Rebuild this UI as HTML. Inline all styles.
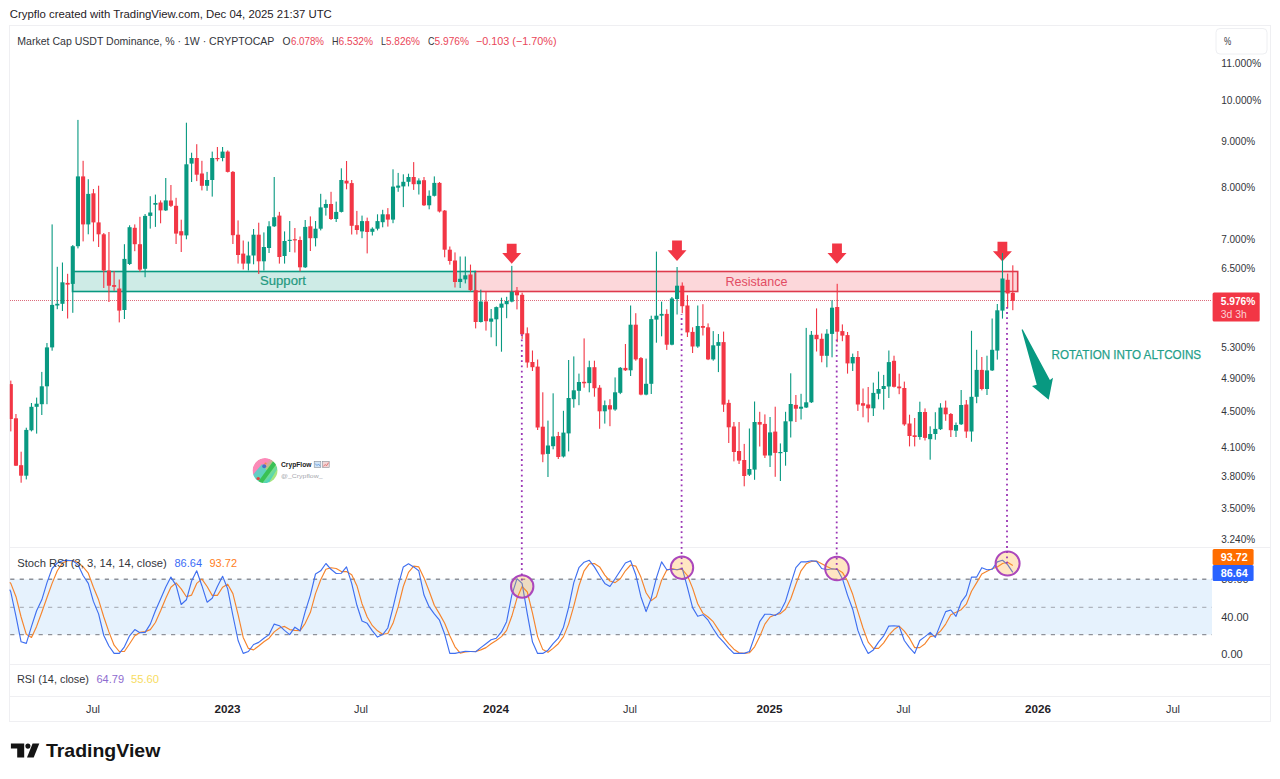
<!DOCTYPE html>
<html lang="en"><head><meta charset="utf-8"><title>Market Cap USDT Dominance</title>
<style>
html,body{margin:0;padding:0;background:#fff;}
body{width:1280px;height:779px;overflow:hidden;font-family:"Liberation Sans",sans-serif;}
svg{display:block;}
text{font-family:"Liberation Sans",sans-serif;}
</style></head><body>
<svg width="1280" height="779" viewBox="0 0 1280 779">
<rect width="1280" height="779" fill="#fff"/>

<g fill="none" stroke="#efeff2" stroke-width="1" shape-rendering="crispEdges">
<rect x="9.5" y="25.5" width="1261" height="696"/>
<line x1="9.5" y1="547.5" x2="1270.5" y2="547.5"/>
<line x1="9.5" y1="664.5" x2="1270.5" y2="664.5"/>
<line x1="9.5" y1="696.5" x2="1270.5" y2="696.5"/>
</g>
<rect x="10" y="579.3" width="1202" height="55.3" fill="#e6f2fd"/>
<g stroke="#8e9199" fill="none">
<line x1="10.2" y1="579.3" x2="1212" y2="579.3" stroke-width="1.4" stroke-dasharray="4.2 5.26"/>
<line x1="10.2" y1="607.3" x2="1212" y2="607.3" stroke-width="0.9" stroke-dasharray="4.2 5.26" stroke="#9a9da5"/>
<line x1="10.2" y1="634.6" x2="1212" y2="634.6" stroke-width="1.4" stroke-dasharray="4.2 5.26"/>
</g>
<rect x="475.3" y="271.5" width="542.4" height="20" fill="rgba(242,54,69,0.2)" stroke="#de3a4c" stroke-width="1.6"/>
<rect x="72.5" y="271.5" width="402.8" height="20" fill="rgba(8,153,129,0.2)" stroke="#089981" stroke-width="1.6"/>
<text x="283" y="285" font-size="13" fill="#23997f" stroke="#23997f" stroke-width="0.2" text-anchor="middle" textLength="46" lengthAdjust="spacingAndGlyphs">Support</text>
<text x="756.5" y="285.5" font-size="13" fill="#e24c63" text-anchor="middle" textLength="62" lengthAdjust="spacingAndGlyphs">Resistance</text>
<line x1="10" y1="300.5" x2="1212" y2="300.5" stroke="#dc6c7c" stroke-width="1" stroke-dasharray="1 1" shape-rendering="crispEdges"/>
<path d="M506.8 243.7 H516.6 V253 H521.2 L511.7 263.7 L502.2 253 H506.8 Z" fill="#f23645"/>
<path d="M672.1 240.6 H681.9 V250.2 H686.5 L677 260.9 L667.5 250.2 H672.1 Z" fill="#f23645"/>
<path d="M832.1 243.5 H841.9 V252.9 H846.5 L837 263.8 L827.5 252.9 H832.1 Z" fill="#f23645"/>
<path d="M997.5 241.8 H1007.3 V251.2 H1011.9 L1002.4 261.5 L992.9 251.2 H997.5 Z" fill="#f23645"/>
<defs><clipPath id="plot"><rect x="9.8" y="26" width="1202" height="522"/></clipPath></defs>
<g clip-path="url(#plot)">
<rect x="10.25" y="380.6" width="1.1" height="50.8" fill="#f23645"/>
<rect x="8.75" y="384.1" width="4.1" height="34.9" fill="#f23645"/>
<rect x="15.41" y="414.0" width="1.1" height="52.0" fill="#f23645"/>
<rect x="13.91" y="418.3" width="4.1" height="47.4" fill="#f23645"/>
<rect x="20.58" y="451.7" width="1.1" height="31.0" fill="#f23645"/>
<rect x="19.08" y="465.2" width="4.1" height="10.5" fill="#f23645"/>
<rect x="25.75" y="427.7" width="1.1" height="51.7" fill="#089981"/>
<rect x="24.25" y="429.9" width="4.1" height="45.8" fill="#089981"/>
<rect x="30.91" y="403.0" width="1.1" height="28.4" fill="#089981"/>
<rect x="29.41" y="406.8" width="4.1" height="23.5" fill="#089981"/>
<rect x="36.08" y="397.6" width="1.1" height="36.0" fill="#089981"/>
<rect x="34.58" y="403.7" width="4.1" height="3.1" fill="#089981"/>
<rect x="41.24" y="371.9" width="1.1" height="43.1" fill="#089981"/>
<rect x="39.74" y="386.3" width="4.1" height="17.9" fill="#089981"/>
<rect x="46.41" y="343.0" width="1.1" height="61.2" fill="#089981"/>
<rect x="44.91" y="347.4" width="4.1" height="38.9" fill="#089981"/>
<rect x="51.57" y="224.4" width="1.1" height="126.3" fill="#089981"/>
<rect x="50.07" y="304.9" width="4.1" height="42.5" fill="#089981"/>
<rect x="56.73" y="266.8" width="1.1" height="42.4" fill="#089981"/>
<rect x="55.23" y="303.8" width="4.1" height="1.7" fill="#089981"/>
<rect x="61.90" y="262.5" width="1.1" height="48.5" fill="#089981"/>
<rect x="60.40" y="282.3" width="4.1" height="21.5" fill="#089981"/>
<rect x="67.06" y="273.8" width="1.1" height="44.7" fill="#f23645"/>
<rect x="65.56" y="282.9" width="4.1" height="1.7" fill="#f23645"/>
<rect x="72.23" y="245.0" width="1.1" height="67.8" fill="#089981"/>
<rect x="70.73" y="246.2" width="4.1" height="37.7" fill="#089981"/>
<rect x="77.39" y="119.9" width="1.1" height="128.5" fill="#089981"/>
<rect x="75.89" y="176.4" width="4.1" height="69.8" fill="#089981"/>
<rect x="82.56" y="160.8" width="1.1" height="80.6" fill="#f23645"/>
<rect x="81.06" y="176.4" width="4.1" height="48.0" fill="#f23645"/>
<rect x="87.72" y="179.2" width="1.1" height="55.1" fill="#089981"/>
<rect x="86.22" y="193.9" width="4.1" height="30.5" fill="#089981"/>
<rect x="92.89" y="189.0" width="1.1" height="52.4" fill="#f23645"/>
<rect x="91.39" y="193.3" width="4.1" height="29.1" fill="#f23645"/>
<rect x="98.06" y="185.7" width="1.1" height="61.3" fill="#f23645"/>
<rect x="96.56" y="222.4" width="4.1" height="11.9" fill="#f23645"/>
<rect x="103.22" y="233.0" width="1.1" height="55.0" fill="#f23645"/>
<rect x="101.72" y="234.3" width="4.1" height="36.2" fill="#f23645"/>
<rect x="108.39" y="232.0" width="1.1" height="70.0" fill="#f23645"/>
<rect x="106.89" y="270.5" width="4.1" height="15.2" fill="#f23645"/>
<rect x="113.55" y="271.0" width="1.1" height="19.8" fill="#f23645"/>
<rect x="112.05" y="285.1" width="4.1" height="1.7" fill="#f23645"/>
<rect x="118.72" y="279.5" width="1.1" height="42.9" fill="#f23645"/>
<rect x="117.22" y="288.5" width="4.1" height="22.1" fill="#f23645"/>
<rect x="123.88" y="244.2" width="1.1" height="74.8" fill="#089981"/>
<rect x="122.38" y="258.9" width="4.1" height="51.1" fill="#089981"/>
<rect x="129.04" y="225.3" width="1.1" height="39.7" fill="#089981"/>
<rect x="127.55" y="227.2" width="4.1" height="36.8" fill="#089981"/>
<rect x="134.21" y="224.4" width="1.1" height="26.8" fill="#f23645"/>
<rect x="132.71" y="227.8" width="4.1" height="16.4" fill="#f23645"/>
<rect x="139.38" y="216.8" width="1.1" height="54.8" fill="#f23645"/>
<rect x="137.88" y="244.2" width="4.1" height="25.4" fill="#f23645"/>
<rect x="144.54" y="214.0" width="1.1" height="63.2" fill="#089981"/>
<rect x="143.04" y="215.9" width="4.1" height="52.9" fill="#089981"/>
<rect x="149.71" y="196.2" width="1.1" height="32.4" fill="#089981"/>
<rect x="148.21" y="212.5" width="4.1" height="3.4" fill="#089981"/>
<rect x="154.87" y="194.6" width="1.1" height="32.3" fill="#089981"/>
<rect x="153.37" y="203.0" width="4.1" height="1.7" fill="#089981"/>
<rect x="160.03" y="200.4" width="1.1" height="22.9" fill="#f23645"/>
<rect x="158.53" y="202.5" width="4.1" height="7.9" fill="#f23645"/>
<rect x="165.20" y="178.0" width="1.1" height="33.0" fill="#089981"/>
<rect x="163.70" y="200.4" width="4.1" height="10.0" fill="#089981"/>
<rect x="170.37" y="185.0" width="1.1" height="22.0" fill="#f23645"/>
<rect x="168.87" y="200.5" width="4.1" height="5.3" fill="#f23645"/>
<rect x="175.53" y="197.8" width="1.1" height="46.2" fill="#f23645"/>
<rect x="174.03" y="205.8" width="4.1" height="27.8" fill="#f23645"/>
<rect x="180.69" y="219.7" width="1.1" height="32.3" fill="#f23645"/>
<rect x="179.19" y="231.2" width="4.1" height="4.2" fill="#f23645"/>
<rect x="185.86" y="122.7" width="1.1" height="116.6" fill="#089981"/>
<rect x="184.36" y="164.3" width="4.1" height="71.1" fill="#089981"/>
<rect x="191.03" y="152.7" width="1.1" height="29.3" fill="#089981"/>
<rect x="189.53" y="158.0" width="4.1" height="5.6" fill="#089981"/>
<rect x="196.19" y="144.2" width="1.1" height="36.9" fill="#f23645"/>
<rect x="194.69" y="158.0" width="4.1" height="16.7" fill="#f23645"/>
<rect x="201.35" y="160.8" width="1.1" height="29.6" fill="#f23645"/>
<rect x="199.85" y="173.5" width="4.1" height="12.3" fill="#f23645"/>
<rect x="206.52" y="171.9" width="1.1" height="18.9" fill="#089981"/>
<rect x="205.02" y="180.0" width="4.1" height="5.8" fill="#089981"/>
<rect x="211.69" y="151.6" width="1.1" height="45.0" fill="#089981"/>
<rect x="210.19" y="158.0" width="4.1" height="22.0" fill="#089981"/>
<rect x="216.85" y="147.0" width="1.1" height="14.3" fill="#f23645"/>
<rect x="215.35" y="158.0" width="4.1" height="1.2" fill="#f23645"/>
<rect x="222.02" y="147.0" width="1.1" height="14.3" fill="#089981"/>
<rect x="220.52" y="151.6" width="4.1" height="6.4" fill="#089981"/>
<rect x="227.18" y="150.4" width="1.1" height="22.1" fill="#f23645"/>
<rect x="225.68" y="151.6" width="4.1" height="20.3" fill="#f23645"/>
<rect x="232.34" y="171.0" width="1.1" height="73.0" fill="#f23645"/>
<rect x="230.84" y="171.9" width="4.1" height="63.3" fill="#f23645"/>
<rect x="237.51" y="220.4" width="1.1" height="43.2" fill="#f23645"/>
<rect x="236.01" y="234.7" width="4.1" height="20.3" fill="#f23645"/>
<rect x="242.68" y="240.5" width="1.1" height="28.9" fill="#f23645"/>
<rect x="241.18" y="253.6" width="4.1" height="10.0" fill="#f23645"/>
<rect x="247.84" y="241.6" width="1.1" height="28.9" fill="#089981"/>
<rect x="246.34" y="255.5" width="4.1" height="8.1" fill="#089981"/>
<rect x="253.00" y="229.0" width="1.1" height="35.3" fill="#089981"/>
<rect x="251.50" y="234.7" width="4.1" height="20.8" fill="#089981"/>
<rect x="258.17" y="222.7" width="1.1" height="51.3" fill="#f23645"/>
<rect x="256.67" y="234.7" width="4.1" height="26.6" fill="#f23645"/>
<rect x="263.33" y="232.4" width="1.1" height="38.1" fill="#089981"/>
<rect x="261.83" y="247.0" width="4.1" height="14.3" fill="#089981"/>
<rect x="268.50" y="221.2" width="1.1" height="31.8" fill="#089981"/>
<rect x="267.00" y="226.3" width="4.1" height="21.7" fill="#089981"/>
<rect x="273.67" y="177.0" width="1.1" height="50.0" fill="#089981"/>
<rect x="272.17" y="217.2" width="4.1" height="9.1" fill="#089981"/>
<rect x="278.83" y="211.9" width="1.1" height="51.7" fill="#f23645"/>
<rect x="277.33" y="215.6" width="4.1" height="41.4" fill="#f23645"/>
<rect x="284.00" y="231.4" width="1.1" height="32.2" fill="#089981"/>
<rect x="282.50" y="241.0" width="4.1" height="15.0" fill="#089981"/>
<rect x="289.16" y="221.0" width="1.1" height="31.0" fill="#089981"/>
<rect x="287.66" y="239.8" width="4.1" height="1.2" fill="#089981"/>
<rect x="294.32" y="228.0" width="1.1" height="24.5" fill="#f23645"/>
<rect x="292.82" y="239.2" width="4.1" height="1.2" fill="#f23645"/>
<rect x="299.49" y="236.5" width="1.1" height="34.9" fill="#f23645"/>
<rect x="297.99" y="240.0" width="4.1" height="27.3" fill="#f23645"/>
<rect x="304.66" y="220.0" width="1.1" height="48.0" fill="#089981"/>
<rect x="303.16" y="226.9" width="4.1" height="40.4" fill="#089981"/>
<rect x="309.82" y="216.4" width="1.1" height="34.6" fill="#f23645"/>
<rect x="308.32" y="226.3" width="4.1" height="11.9" fill="#f23645"/>
<rect x="314.99" y="221.0" width="1.1" height="25.4" fill="#089981"/>
<rect x="313.49" y="228.7" width="4.1" height="9.5" fill="#089981"/>
<rect x="320.15" y="193.8" width="1.1" height="36.6" fill="#089981"/>
<rect x="318.65" y="207.4" width="4.1" height="21.3" fill="#089981"/>
<rect x="325.31" y="199.6" width="1.1" height="16.0" fill="#089981"/>
<rect x="323.81" y="204.0" width="4.1" height="3.8" fill="#089981"/>
<rect x="330.48" y="191.8" width="1.1" height="28.2" fill="#f23645"/>
<rect x="328.98" y="204.0" width="4.1" height="15.0" fill="#f23645"/>
<rect x="335.64" y="201.6" width="1.1" height="20.4" fill="#089981"/>
<rect x="334.14" y="211.9" width="4.1" height="7.1" fill="#089981"/>
<rect x="340.81" y="168.3" width="1.1" height="44.2" fill="#089981"/>
<rect x="339.31" y="180.0" width="4.1" height="31.9" fill="#089981"/>
<rect x="345.98" y="161.0" width="1.1" height="28.3" fill="#f23645"/>
<rect x="344.48" y="180.7" width="4.1" height="2.8" fill="#f23645"/>
<rect x="351.14" y="180.0" width="1.1" height="54.5" fill="#f23645"/>
<rect x="349.64" y="183.1" width="4.1" height="42.7" fill="#f23645"/>
<rect x="356.31" y="210.9" width="1.1" height="23.6" fill="#f23645"/>
<rect x="354.81" y="225.2" width="4.1" height="4.8" fill="#f23645"/>
<rect x="361.47" y="215.6" width="1.1" height="22.6" fill="#089981"/>
<rect x="359.97" y="221.1" width="4.1" height="10.3" fill="#089981"/>
<rect x="366.63" y="217.6" width="1.1" height="35.8" fill="#f23645"/>
<rect x="365.13" y="221.1" width="4.1" height="10.9" fill="#f23645"/>
<rect x="371.80" y="227.3" width="1.1" height="8.2" fill="#089981"/>
<rect x="370.30" y="228.7" width="4.1" height="3.1" fill="#089981"/>
<rect x="376.96" y="214.3" width="1.1" height="16.1" fill="#089981"/>
<rect x="375.46" y="221.1" width="4.1" height="7.6" fill="#089981"/>
<rect x="382.13" y="209.8" width="1.1" height="17.5" fill="#089981"/>
<rect x="380.63" y="214.3" width="4.1" height="7.9" fill="#089981"/>
<rect x="387.30" y="208.1" width="1.1" height="18.5" fill="#f23645"/>
<rect x="385.80" y="214.3" width="4.1" height="5.3" fill="#f23645"/>
<rect x="392.46" y="169.3" width="1.1" height="53.9" fill="#089981"/>
<rect x="390.96" y="186.6" width="4.1" height="33.0" fill="#089981"/>
<rect x="397.62" y="172.9" width="1.1" height="18.9" fill="#089981"/>
<rect x="396.12" y="185.6" width="4.1" height="2.1" fill="#089981"/>
<rect x="402.79" y="174.3" width="1.1" height="32.8" fill="#089981"/>
<rect x="401.29" y="181.8" width="4.1" height="4.6" fill="#089981"/>
<rect x="407.95" y="173.7" width="1.1" height="12.7" fill="#089981"/>
<rect x="406.45" y="177.0" width="4.1" height="4.8" fill="#089981"/>
<rect x="413.12" y="162.1" width="1.1" height="27.8" fill="#f23645"/>
<rect x="411.62" y="177.0" width="4.1" height="7.2" fill="#f23645"/>
<rect x="418.29" y="178.3" width="1.1" height="16.2" fill="#089981"/>
<rect x="416.79" y="180.5" width="4.1" height="3.7" fill="#089981"/>
<rect x="423.45" y="177.0" width="1.1" height="29.0" fill="#f23645"/>
<rect x="421.95" y="180.2" width="4.1" height="25.1" fill="#f23645"/>
<rect x="428.62" y="190.4" width="1.1" height="18.9" fill="#089981"/>
<rect x="427.12" y="195.8" width="4.1" height="9.5" fill="#089981"/>
<rect x="433.78" y="176.4" width="1.1" height="20.1" fill="#089981"/>
<rect x="432.28" y="182.9" width="4.1" height="12.9" fill="#089981"/>
<rect x="438.94" y="182.0" width="1.1" height="30.5" fill="#f23645"/>
<rect x="437.44" y="182.9" width="4.1" height="28.6" fill="#f23645"/>
<rect x="444.11" y="210.0" width="1.1" height="47.3" fill="#f23645"/>
<rect x="442.61" y="210.6" width="4.1" height="39.1" fill="#f23645"/>
<rect x="449.27" y="246.5" width="1.1" height="18.1" fill="#f23645"/>
<rect x="447.77" y="249.7" width="4.1" height="11.3" fill="#f23645"/>
<rect x="454.44" y="252.4" width="1.1" height="35.1" fill="#f23645"/>
<rect x="452.94" y="260.5" width="4.1" height="21.5" fill="#f23645"/>
<rect x="459.61" y="256.5" width="1.1" height="31.5" fill="#089981"/>
<rect x="458.11" y="278.8" width="4.1" height="3.2" fill="#089981"/>
<rect x="464.77" y="256.5" width="1.1" height="26.9" fill="#089981"/>
<rect x="463.27" y="275.3" width="4.1" height="4.1" fill="#089981"/>
<rect x="469.94" y="264.6" width="1.1" height="26.9" fill="#f23645"/>
<rect x="468.44" y="274.5" width="4.1" height="15.7" fill="#f23645"/>
<rect x="475.10" y="272.6" width="1.1" height="55.8" fill="#f23645"/>
<rect x="473.60" y="290.2" width="4.1" height="31.8" fill="#f23645"/>
<rect x="480.26" y="289.6" width="1.1" height="32.9" fill="#089981"/>
<rect x="478.76" y="301.5" width="4.1" height="20.5" fill="#089981"/>
<rect x="485.43" y="291.5" width="1.1" height="39.1" fill="#f23645"/>
<rect x="483.93" y="301.5" width="4.1" height="19.7" fill="#f23645"/>
<rect x="490.60" y="309.0" width="1.1" height="28.3" fill="#089981"/>
<rect x="489.10" y="318.5" width="4.1" height="3.2" fill="#089981"/>
<rect x="495.76" y="306.5" width="1.1" height="39.7" fill="#089981"/>
<rect x="494.26" y="307.1" width="4.1" height="12.2" fill="#089981"/>
<rect x="500.93" y="297.7" width="1.1" height="54.0" fill="#089981"/>
<rect x="499.43" y="303.6" width="4.1" height="4.1" fill="#089981"/>
<rect x="506.09" y="296.8" width="1.1" height="21.4" fill="#089981"/>
<rect x="504.59" y="301.0" width="4.1" height="3.2" fill="#089981"/>
<rect x="511.25" y="265.9" width="1.1" height="36.4" fill="#089981"/>
<rect x="509.75" y="291.8" width="4.1" height="9.8" fill="#089981"/>
<rect x="516.42" y="287.0" width="1.1" height="22.4" fill="#f23645"/>
<rect x="514.92" y="290.6" width="4.1" height="4.7" fill="#f23645"/>
<rect x="521.59" y="292.7" width="1.1" height="46.2" fill="#f23645"/>
<rect x="520.09" y="294.8" width="4.1" height="39.5" fill="#f23645"/>
<rect x="526.75" y="327.4" width="1.1" height="40.3" fill="#f23645"/>
<rect x="525.25" y="333.3" width="4.1" height="29.2" fill="#f23645"/>
<rect x="531.91" y="350.5" width="1.1" height="20.5" fill="#f23645"/>
<rect x="530.41" y="362.0" width="4.1" height="5.2" fill="#f23645"/>
<rect x="537.08" y="359.5" width="1.1" height="70.5" fill="#f23645"/>
<rect x="535.58" y="366.6" width="4.1" height="60.9" fill="#f23645"/>
<rect x="542.25" y="392.3" width="1.1" height="69.9" fill="#f23645"/>
<rect x="540.75" y="426.7" width="4.1" height="27.7" fill="#f23645"/>
<rect x="547.41" y="420.6" width="1.1" height="56.4" fill="#089981"/>
<rect x="545.91" y="445.5" width="4.1" height="8.4" fill="#089981"/>
<rect x="552.58" y="393.3" width="1.1" height="56.0" fill="#089981"/>
<rect x="551.08" y="436.5" width="4.1" height="9.7" fill="#089981"/>
<rect x="557.74" y="431.9" width="1.1" height="27.1" fill="#f23645"/>
<rect x="556.24" y="436.0" width="4.1" height="21.0" fill="#f23645"/>
<rect x="562.90" y="410.8" width="1.1" height="46.7" fill="#089981"/>
<rect x="561.40" y="432.6" width="4.1" height="23.9" fill="#089981"/>
<rect x="568.07" y="360.0" width="1.1" height="91.4" fill="#089981"/>
<rect x="566.57" y="398.0" width="4.1" height="35.4" fill="#089981"/>
<rect x="573.24" y="356.4" width="1.1" height="51.3" fill="#089981"/>
<rect x="571.74" y="390.3" width="4.1" height="8.9" fill="#089981"/>
<rect x="578.40" y="373.6" width="1.1" height="31.6" fill="#089981"/>
<rect x="576.90" y="382.0" width="4.1" height="8.8" fill="#089981"/>
<rect x="583.57" y="338.4" width="1.1" height="49.3" fill="#f23645"/>
<rect x="582.07" y="381.8" width="4.1" height="1.5" fill="#f23645"/>
<rect x="588.73" y="360.7" width="1.1" height="31.6" fill="#089981"/>
<rect x="587.23" y="367.2" width="4.1" height="15.9" fill="#089981"/>
<rect x="593.89" y="360.7" width="1.1" height="36.0" fill="#f23645"/>
<rect x="592.39" y="367.2" width="4.1" height="21.0" fill="#f23645"/>
<rect x="599.06" y="385.1" width="1.1" height="43.7" fill="#f23645"/>
<rect x="597.56" y="387.7" width="4.1" height="23.6" fill="#f23645"/>
<rect x="604.23" y="400.5" width="1.1" height="23.1" fill="#089981"/>
<rect x="602.73" y="405.2" width="4.1" height="6.1" fill="#089981"/>
<rect x="609.39" y="399.2" width="1.1" height="27.0" fill="#f23645"/>
<rect x="607.89" y="405.2" width="4.1" height="4.3" fill="#f23645"/>
<rect x="614.55" y="377.4" width="1.1" height="33.4" fill="#089981"/>
<rect x="613.05" y="392.3" width="4.1" height="17.2" fill="#089981"/>
<rect x="619.72" y="367.0" width="1.1" height="27.1" fill="#089981"/>
<rect x="618.22" y="367.8" width="4.1" height="25.0" fill="#089981"/>
<rect x="624.88" y="344.0" width="1.1" height="27.0" fill="#f23645"/>
<rect x="623.38" y="367.9" width="4.1" height="2.4" fill="#f23645"/>
<rect x="630.05" y="305.5" width="1.1" height="70.5" fill="#089981"/>
<rect x="628.55" y="324.7" width="4.1" height="45.6" fill="#089981"/>
<rect x="635.22" y="313.2" width="1.1" height="47.5" fill="#f23645"/>
<rect x="633.72" y="324.7" width="4.1" height="34.7" fill="#f23645"/>
<rect x="640.38" y="357.0" width="1.1" height="38.3" fill="#f23645"/>
<rect x="638.88" y="358.1" width="4.1" height="36.5" fill="#f23645"/>
<rect x="645.54" y="358.6" width="1.1" height="36.7" fill="#089981"/>
<rect x="644.04" y="383.8" width="4.1" height="10.8" fill="#089981"/>
<rect x="650.71" y="315.7" width="1.1" height="78.3" fill="#089981"/>
<rect x="649.21" y="319.1" width="4.1" height="64.7" fill="#089981"/>
<rect x="655.88" y="251.6" width="1.1" height="91.1" fill="#089981"/>
<rect x="654.38" y="315.7" width="4.1" height="3.9" fill="#089981"/>
<rect x="661.04" y="301.6" width="1.1" height="34.7" fill="#089981"/>
<rect x="659.54" y="313.9" width="4.1" height="1.8" fill="#089981"/>
<rect x="666.21" y="309.3" width="1.1" height="40.6" fill="#f23645"/>
<rect x="664.71" y="313.9" width="4.1" height="30.8" fill="#f23645"/>
<rect x="671.37" y="297.0" width="1.1" height="48.3" fill="#089981"/>
<rect x="669.87" y="298.5" width="4.1" height="46.2" fill="#089981"/>
<rect x="676.53" y="267.0" width="1.1" height="47.5" fill="#089981"/>
<rect x="675.03" y="285.7" width="4.1" height="13.3" fill="#089981"/>
<rect x="681.70" y="282.4" width="1.1" height="30.8" fill="#f23645"/>
<rect x="680.20" y="285.7" width="4.1" height="20.5" fill="#f23645"/>
<rect x="686.87" y="295.2" width="1.1" height="41.8" fill="#f23645"/>
<rect x="685.37" y="305.5" width="4.1" height="26.9" fill="#f23645"/>
<rect x="692.03" y="327.3" width="1.1" height="25.7" fill="#f23645"/>
<rect x="690.53" y="331.9" width="4.1" height="14.6" fill="#f23645"/>
<rect x="697.20" y="305.5" width="1.1" height="42.3" fill="#089981"/>
<rect x="695.70" y="326.0" width="4.1" height="20.5" fill="#089981"/>
<rect x="702.36" y="304.2" width="1.1" height="31.3" fill="#f23645"/>
<rect x="700.86" y="326.0" width="4.1" height="1.8" fill="#f23645"/>
<rect x="707.52" y="323.4" width="1.1" height="36.7" fill="#f23645"/>
<rect x="706.02" y="327.3" width="4.1" height="32.1" fill="#f23645"/>
<rect x="712.69" y="331.1" width="1.1" height="29.6" fill="#089981"/>
<rect x="711.19" y="345.3" width="4.1" height="14.1" fill="#089981"/>
<rect x="717.86" y="334.0" width="1.1" height="38.1" fill="#089981"/>
<rect x="716.36" y="342.1" width="4.1" height="3.7" fill="#089981"/>
<rect x="723.02" y="331.6" width="1.1" height="80.3" fill="#f23645"/>
<rect x="721.52" y="342.1" width="4.1" height="62.5" fill="#f23645"/>
<rect x="728.19" y="399.7" width="1.1" height="43.3" fill="#f23645"/>
<rect x="726.69" y="402.9" width="4.1" height="24.4" fill="#f23645"/>
<rect x="733.35" y="422.0" width="1.1" height="39.4" fill="#f23645"/>
<rect x="731.85" y="426.5" width="4.1" height="25.5" fill="#f23645"/>
<rect x="738.51" y="422.0" width="1.1" height="42.0" fill="#f23645"/>
<rect x="737.01" y="451.0" width="4.1" height="9.6" fill="#f23645"/>
<rect x="743.68" y="443.9" width="1.1" height="42.4" fill="#f23645"/>
<rect x="742.18" y="460.0" width="4.1" height="16.0" fill="#f23645"/>
<rect x="748.85" y="428.5" width="1.1" height="47.5" fill="#089981"/>
<rect x="747.35" y="469.0" width="4.1" height="5.7" fill="#089981"/>
<rect x="754.01" y="401.5" width="1.1" height="78.3" fill="#089981"/>
<rect x="752.51" y="422.0" width="4.1" height="47.6" fill="#089981"/>
<rect x="759.17" y="411.8" width="1.1" height="34.7" fill="#f23645"/>
<rect x="757.67" y="422.0" width="4.1" height="2.6" fill="#f23645"/>
<rect x="764.34" y="414.4" width="1.1" height="43.6" fill="#f23645"/>
<rect x="762.84" y="423.9" width="4.1" height="31.6" fill="#f23645"/>
<rect x="769.50" y="417.0" width="1.1" height="50.0" fill="#089981"/>
<rect x="768.00" y="432.4" width="4.1" height="23.1" fill="#089981"/>
<rect x="774.67" y="406.7" width="1.1" height="70.1" fill="#f23645"/>
<rect x="773.17" y="431.6" width="4.1" height="21.3" fill="#f23645"/>
<rect x="779.84" y="443.4" width="1.1" height="37.6" fill="#089981"/>
<rect x="778.34" y="452.0" width="4.1" height="1.2" fill="#089981"/>
<rect x="785.00" y="411.8" width="1.1" height="53.9" fill="#089981"/>
<rect x="783.50" y="421.3" width="4.1" height="30.7" fill="#089981"/>
<rect x="790.16" y="373.3" width="1.1" height="64.2" fill="#089981"/>
<rect x="788.66" y="404.0" width="4.1" height="17.3" fill="#089981"/>
<rect x="795.33" y="395.0" width="1.1" height="27.0" fill="#f23645"/>
<rect x="793.83" y="404.9" width="4.1" height="3.8" fill="#f23645"/>
<rect x="800.50" y="393.8" width="1.1" height="25.7" fill="#089981"/>
<rect x="799.00" y="406.7" width="4.1" height="2.0" fill="#089981"/>
<rect x="805.66" y="327.9" width="1.1" height="80.1" fill="#089981"/>
<rect x="804.16" y="402.3" width="4.1" height="5.2" fill="#089981"/>
<rect x="810.83" y="331.0" width="1.1" height="72.0" fill="#089981"/>
<rect x="809.33" y="334.8" width="4.1" height="67.5" fill="#089981"/>
<rect x="815.99" y="308.4" width="1.1" height="43.1" fill="#f23645"/>
<rect x="814.49" y="334.8" width="4.1" height="4.4" fill="#f23645"/>
<rect x="821.15" y="333.5" width="1.1" height="28.8" fill="#f23645"/>
<rect x="819.65" y="338.8" width="4.1" height="17.0" fill="#f23645"/>
<rect x="826.32" y="329.2" width="1.1" height="38.1" fill="#089981"/>
<rect x="824.82" y="333.7" width="4.1" height="22.1" fill="#089981"/>
<rect x="831.49" y="300.2" width="1.1" height="57.1" fill="#089981"/>
<rect x="829.99" y="307.7" width="4.1" height="26.2" fill="#089981"/>
<rect x="836.65" y="283.8" width="1.1" height="58.4" fill="#f23645"/>
<rect x="835.15" y="307.0" width="4.1" height="24.7" fill="#f23645"/>
<rect x="841.82" y="324.4" width="1.1" height="16.8" fill="#f23645"/>
<rect x="840.32" y="331.1" width="4.1" height="4.5" fill="#f23645"/>
<rect x="846.98" y="332.0" width="1.1" height="41.6" fill="#f23645"/>
<rect x="845.48" y="335.1" width="4.1" height="28.3" fill="#f23645"/>
<rect x="852.14" y="353.6" width="1.1" height="17.4" fill="#089981"/>
<rect x="850.64" y="357.0" width="4.1" height="6.4" fill="#089981"/>
<rect x="857.31" y="351.0" width="1.1" height="59.9" fill="#f23645"/>
<rect x="855.81" y="357.0" width="4.1" height="47.5" fill="#f23645"/>
<rect x="862.48" y="388.5" width="1.1" height="28.8" fill="#f23645"/>
<rect x="860.98" y="403.2" width="4.1" height="2.5" fill="#f23645"/>
<rect x="867.64" y="387.0" width="1.1" height="35.4" fill="#f23645"/>
<rect x="866.14" y="404.5" width="4.1" height="3.8" fill="#f23645"/>
<rect x="872.80" y="382.6" width="1.1" height="33.4" fill="#089981"/>
<rect x="871.30" y="392.9" width="4.1" height="15.4" fill="#089981"/>
<rect x="877.97" y="371.6" width="1.1" height="27.7" fill="#089981"/>
<rect x="876.47" y="389.0" width="4.1" height="4.7" fill="#089981"/>
<rect x="883.13" y="374.9" width="1.1" height="34.7" fill="#089981"/>
<rect x="881.63" y="386.0" width="4.1" height="3.0" fill="#089981"/>
<rect x="888.30" y="350.5" width="1.1" height="47.5" fill="#089981"/>
<rect x="886.80" y="362.1" width="4.1" height="24.4" fill="#089981"/>
<rect x="893.47" y="355.7" width="1.1" height="31.8" fill="#f23645"/>
<rect x="891.97" y="360.8" width="4.1" height="26.0" fill="#f23645"/>
<rect x="898.63" y="373.7" width="1.1" height="20.5" fill="#f23645"/>
<rect x="897.13" y="386.5" width="4.1" height="1.8" fill="#f23645"/>
<rect x="903.79" y="381.6" width="1.1" height="44.2" fill="#f23645"/>
<rect x="902.29" y="388.0" width="4.1" height="36.4" fill="#f23645"/>
<rect x="908.96" y="414.7" width="1.1" height="31.7" fill="#f23645"/>
<rect x="907.46" y="423.5" width="4.1" height="12.5" fill="#f23645"/>
<rect x="914.12" y="418.0" width="1.1" height="28.4" fill="#f23645"/>
<rect x="912.62" y="435.3" width="4.1" height="1.7" fill="#f23645"/>
<rect x="919.29" y="401.7" width="1.1" height="38.0" fill="#089981"/>
<rect x="917.79" y="412.0" width="4.1" height="25.0" fill="#089981"/>
<rect x="924.46" y="408.4" width="1.1" height="32.1" fill="#f23645"/>
<rect x="922.96" y="412.0" width="4.1" height="25.9" fill="#f23645"/>
<rect x="929.62" y="426.3" width="1.1" height="33.4" fill="#089981"/>
<rect x="928.12" y="434.0" width="4.1" height="5.2" fill="#089981"/>
<rect x="934.78" y="412.2" width="1.1" height="27.5" fill="#089981"/>
<rect x="933.28" y="428.9" width="4.1" height="5.1" fill="#089981"/>
<rect x="939.95" y="403.2" width="1.1" height="26.8" fill="#089981"/>
<rect x="938.45" y="407.6" width="4.1" height="21.6" fill="#089981"/>
<rect x="945.12" y="400.6" width="1.1" height="20.2" fill="#f23645"/>
<rect x="943.62" y="407.6" width="4.1" height="6.7" fill="#f23645"/>
<rect x="950.28" y="413.0" width="1.1" height="24.0" fill="#f23645"/>
<rect x="948.78" y="414.0" width="4.1" height="16.2" fill="#f23645"/>
<rect x="955.45" y="422.5" width="1.1" height="14.5" fill="#089981"/>
<rect x="953.95" y="425.0" width="4.1" height="5.7" fill="#089981"/>
<rect x="960.61" y="390.0" width="1.1" height="35.0" fill="#089981"/>
<rect x="959.11" y="405.0" width="4.1" height="19.3" fill="#089981"/>
<rect x="965.77" y="400.0" width="1.1" height="37.9" fill="#f23645"/>
<rect x="964.27" y="404.5" width="4.1" height="27.0" fill="#f23645"/>
<rect x="970.94" y="330.8" width="1.1" height="110.9" fill="#089981"/>
<rect x="969.44" y="396.8" width="4.1" height="34.7" fill="#089981"/>
<rect x="976.11" y="349.8" width="1.1" height="53.4" fill="#089981"/>
<rect x="974.61" y="369.9" width="4.1" height="26.9" fill="#089981"/>
<rect x="981.27" y="357.0" width="1.1" height="33.4" fill="#f23645"/>
<rect x="979.77" y="369.9" width="4.1" height="19.1" fill="#f23645"/>
<rect x="986.44" y="355.7" width="1.1" height="39.3" fill="#089981"/>
<rect x="984.94" y="370.4" width="4.1" height="18.6" fill="#089981"/>
<rect x="991.60" y="318.5" width="1.1" height="52.5" fill="#089981"/>
<rect x="990.10" y="349.8" width="4.1" height="20.6" fill="#089981"/>
<rect x="996.76" y="304.0" width="1.1" height="55.6" fill="#089981"/>
<rect x="995.26" y="310.3" width="4.1" height="40.3" fill="#089981"/>
<rect x="1001.93" y="253.1" width="1.1" height="65.5" fill="#089981"/>
<rect x="1000.43" y="278.5" width="4.1" height="32.1" fill="#089981"/>
<rect x="1007.10" y="273.6" width="1.1" height="34.7" fill="#f23645"/>
<rect x="1005.60" y="279.8" width="4.1" height="13.7" fill="#f23645"/>
<rect x="1012.26" y="265.3" width="1.1" height="44.9" fill="#f23645"/>
<rect x="1010.76" y="292.9" width="4.1" height="8.0" fill="#f23645"/>
</g>
<path d="M1021.6 329.8 L1022.6 329.3 L1049.9 380.1 L1053 377.8 L1048.7 399.8 L1032 386.1 L1036.8 384.7 Z" fill="#089981"/>
<text x="1051.6" y="359.4" font-size="12.8" fill="#1f9f89" stroke="#1f9f89" stroke-width="0.25" textLength="149.5" lengthAdjust="spacingAndGlyphs">ROTATION INTO ALTCOINS</text>
<polyline points="9.8,582.3 10.8,583.4 16.0,596.7 21.1,617.0 26.3,634.3 31.5,637.4 36.6,626.4 41.8,612.3 47.0,597.5 52.1,583.4 57.3,570.8 62.5,563.0 67.6,560.7 72.8,560.7 77.9,562.2 83.1,566.9 88.3,573.2 93.4,587.3 98.6,599.8 103.8,617.0 108.9,631.9 114.1,645.2 119.3,651.5 124.4,651.5 129.6,643.7 134.8,635.8 139.9,632.4 145.1,631.6 150.3,629.6 155.4,622.5 160.6,610.8 165.8,598.2 170.9,587.3 176.1,582.9 181.2,588.9 186.4,596.7 191.6,595.1 196.7,583.4 201.9,579.1 207.1,586.5 212.2,595.4 217.4,595.4 222.6,587.3 227.7,584.2 232.9,593.6 238.1,614.7 243.2,637.4 248.4,648.4 253.6,649.9 258.7,646.0 263.9,641.8 269.1,638.2 274.2,631.9 279.4,628.0 284.5,626.4 289.7,629.6 294.9,630.4 300.0,630.8 305.2,623.3 310.4,612.3 315.5,593.6 320.7,579.8 325.9,569.3 331.0,567.7 336.2,568.5 341.4,571.6 346.5,571.6 351.7,574.8 356.9,585.7 362.0,603.7 367.2,617.0 372.4,625.7 377.5,630.8 382.7,634.3 387.8,633.5 393.0,623.3 398.2,606.9 403.3,586.5 408.5,572.4 413.7,566.1 418.8,566.9 424.0,577.9 429.2,591.2 434.3,605.3 439.5,613.9 444.7,623.3 449.8,635.8 455.0,646.8 460.2,653.1 465.3,652.0 470.5,651.5 475.7,651.5 480.8,649.9 486.0,647.6 491.1,643.7 496.3,640.5 501.5,636.6 506.6,630.4 511.8,616.3 517.0,598.2 522.1,586.5 527.3,592.0 532.5,613.1 537.6,636.6 542.8,649.6 548.0,652.3 553.1,648.4 558.3,643.7 563.5,636.6 568.6,624.1 573.8,606.1 578.9,586.0 584.1,570.8 589.3,563.8 594.4,563.5 599.6,566.9 604.8,575.1 609.9,581.0 615.1,582.6 620.3,578.7 625.4,570.8 630.6,565.0 635.8,566.1 640.9,577.1 646.1,592.8 651.3,600.6 656.4,596.7 661.6,580.2 666.8,570.1 671.9,568.5 677.1,569.7 682.2,569.3 687.4,575.5 692.6,588.1 697.7,603.7 702.9,613.1 708.1,617.0 713.2,621.7 718.4,629.6 723.6,637.4 728.7,643.7 733.9,649.2 739.1,652.8 744.2,653.4 749.4,652.8 754.6,646.8 759.7,636.6 764.9,624.1 770.1,617.0 775.2,614.7 780.4,613.6 785.5,609.2 790.7,599.0 795.9,584.2 801.0,570.8 806.2,563.8 811.4,561.4 816.5,561.1 821.7,563.8 826.9,566.6 832.0,569.0 837.2,569.3 842.4,572.4 847.5,581.0 852.7,594.3 857.9,611.6 863.0,628.0 868.2,642.1 873.4,648.4 878.5,648.4 883.7,642.9 888.8,635.1 894.0,629.6 899.2,626.1 904.3,631.1 909.5,638.2 914.7,647.6 919.8,647.6 925.0,643.7 930.2,636.6 935.3,635.5 940.5,631.1 945.7,624.1 950.8,614.7 956.0,612.3 961.2,609.7 966.3,604.2 971.5,591.2 976.7,582.6 981.8,574.0 987.0,571.3 992.1,568.8 997.3,566.9 1002.5,563.5 1007.6,562.2 1012.8,565.4" fill="none" stroke="#f6842c" stroke-width="1.15" stroke-linejoin="round"/>
<polyline points="9.8,589.6 10.8,592.0 16.0,616.3 21.1,641.8 26.3,643.4 31.5,626.4 36.6,610.8 41.8,599.8 47.0,582.6 52.1,568.5 57.3,563.0 62.5,560.7 67.6,560.3 72.8,560.7 77.9,564.6 83.1,575.5 88.3,583.4 93.4,601.4 98.6,613.9 103.8,635.5 108.9,646.0 114.1,653.4 119.3,653.4 124.4,646.8 129.6,635.8 134.8,629.6 139.9,632.7 145.1,632.4 150.3,624.1 155.4,610.8 160.6,599.0 165.8,587.0 170.9,577.1 176.1,585.4 181.2,604.5 186.4,599.8 191.6,581.0 196.7,570.8 201.9,585.7 207.1,602.2 212.2,598.2 217.4,586.5 222.6,576.3 227.7,588.9 232.9,615.5 238.1,640.5 243.2,653.4 248.4,651.5 253.6,644.5 258.7,642.4 263.9,638.2 269.1,634.6 274.2,624.1 279.4,625.7 284.5,630.4 289.7,634.6 294.9,627.2 300.0,630.8 305.2,611.6 310.4,595.1 315.5,574.0 320.7,570.8 325.9,563.5 331.0,569.3 336.2,573.5 341.4,573.2 346.5,566.9 351.7,583.4 356.9,605.3 362.0,621.0 367.2,623.3 372.4,630.8 377.5,637.1 382.7,634.6 387.8,628.0 393.0,607.6 398.2,585.7 403.3,566.9 408.5,563.8 413.7,566.9 418.8,570.8 424.0,595.1 429.2,606.9 434.3,613.9 439.5,620.2 444.7,634.3 449.8,653.4 455.0,653.4 460.2,652.3 465.3,651.2 470.5,651.5 475.7,651.8 480.8,647.6 486.0,643.7 491.1,639.8 496.3,638.2 501.5,631.9 506.6,621.7 511.8,595.1 517.0,578.7 522.1,583.4 527.3,613.9 532.5,642.1 537.6,653.4 542.8,653.4 548.0,650.2 553.1,643.7 558.3,638.2 563.5,627.2 568.6,607.6 573.8,582.6 578.9,567.7 584.1,562.2 589.3,560.3 594.4,566.9 599.6,575.5 604.8,583.4 609.9,586.5 615.1,578.7 620.3,570.8 625.4,563.0 630.6,560.7 635.8,574.8 640.9,596.7 646.1,611.6 651.3,598.2 656.4,577.9 661.6,561.9 666.8,569.7 671.9,569.3 677.1,569.7 682.2,568.2 687.4,587.3 692.6,607.6 697.7,616.3 702.9,614.7 708.1,620.2 713.2,628.8 718.4,636.6 723.6,642.1 728.7,648.1 733.9,653.4 739.1,653.4 744.2,653.4 749.4,651.5 754.6,636.6 759.7,621.7 764.9,614.2 770.1,614.2 775.2,615.5 780.4,611.6 785.5,601.4 790.7,584.2 795.9,567.7 801.0,561.9 806.2,561.9 811.4,560.7 816.5,561.4 821.7,568.5 826.9,569.7 832.0,568.8 837.2,569.3 842.4,578.7 847.5,595.1 852.7,609.2 857.9,630.4 863.0,643.7 868.2,653.4 873.4,649.9 878.5,642.1 883.7,635.8 888.8,626.1 894.0,625.7 899.2,626.4 904.3,640.5 909.5,647.6 914.7,653.4 919.8,640.5 925.0,636.6 930.2,632.4 935.3,637.4 940.5,624.1 945.7,611.6 950.8,610.0 956.0,616.3 961.2,602.2 966.3,595.1 971.5,577.1 976.7,577.1 981.8,567.7 987.0,569.7 992.1,569.3 997.3,561.9 1002.5,560.3 1007.6,564.6 1012.8,572.4" fill="none" stroke="#3f6ff0" stroke-width="1.15" stroke-linejoin="round"/>
<circle cx="522.2" cy="586.5" r="11.2" fill="rgba(255,167,38,0.28)" stroke="#ab47bc" stroke-width="2"/>
<circle cx="682" cy="567.7" r="11.2" fill="rgba(255,167,38,0.28)" stroke="#ab47bc" stroke-width="2"/>
<circle cx="837" cy="568.5" r="11.8" fill="rgba(255,167,38,0.28)" stroke="#ab47bc" stroke-width="2"/>
<circle cx="1007.6" cy="563.5" r="12" fill="rgba(255,167,38,0.28)" stroke="#ab47bc" stroke-width="2"/>
<line x1="521.8" y1="580.5" x2="521.8" y2="332" stroke="#9b36b5" stroke-width="1.8" stroke-dasharray="1.8 3.4" stroke-linecap="butt"/>
<line x1="681.6" y1="569.5" x2="681.6" y2="314" stroke="#9b36b5" stroke-width="1.8" stroke-dasharray="1.8 3.4" stroke-linecap="butt"/>
<line x1="836.7" y1="570" x2="836.7" y2="336" stroke="#9b36b5" stroke-width="1.8" stroke-dasharray="1.8 3.4" stroke-linecap="butt"/>
<line x1="1007" y1="563.5" x2="1007" y2="304" stroke="#9b36b5" stroke-width="1.8" stroke-dasharray="1.8 3.4" stroke-linecap="butt"/>
<text x="1221.2" y="66.9" font-size="11" fill="#33353b" textLength="40" lengthAdjust="spacingAndGlyphs">11.000%</text>
<text x="1221.2" y="103.8" font-size="11" fill="#33353b" textLength="40" lengthAdjust="spacingAndGlyphs">10.000%</text>
<text x="1221.2" y="145.0" font-size="11" fill="#33353b" textLength="34" lengthAdjust="spacingAndGlyphs">9.000%</text>
<text x="1221.2" y="190.9" font-size="11" fill="#33353b" textLength="34" lengthAdjust="spacingAndGlyphs">8.000%</text>
<text x="1221.2" y="243.1" font-size="11" fill="#33353b" textLength="34" lengthAdjust="spacingAndGlyphs">7.000%</text>
<text x="1221.2" y="272.2" font-size="11" fill="#33353b" textLength="34" lengthAdjust="spacingAndGlyphs">6.500%</text>
<text x="1221.2" y="351.2" font-size="11" fill="#33353b" textLength="34" lengthAdjust="spacingAndGlyphs">5.300%</text>
<text x="1221.2" y="381.9" font-size="11" fill="#33353b" textLength="34" lengthAdjust="spacingAndGlyphs">4.900%</text>
<text x="1221.2" y="414.7" font-size="11" fill="#33353b" textLength="34" lengthAdjust="spacingAndGlyphs">4.500%</text>
<text x="1221.2" y="451.1" font-size="11" fill="#33353b" textLength="34" lengthAdjust="spacingAndGlyphs">4.100%</text>
<text x="1221.2" y="480.4" font-size="11" fill="#33353b" textLength="34" lengthAdjust="spacingAndGlyphs">3.800%</text>
<text x="1221.2" y="512.3" font-size="11" fill="#33353b" textLength="34" lengthAdjust="spacingAndGlyphs">3.500%</text>
<text x="1221.2" y="542.7" font-size="11" fill="#33353b" textLength="34" lengthAdjust="spacingAndGlyphs">3.240%</text>
<text x="1221.2" y="582.5" font-size="11" fill="#33353b" textLength="27.5" lengthAdjust="spacingAndGlyphs">80.00</text>
<text x="1221.2" y="620.5" font-size="11" fill="#33353b" textLength="27.5" lengthAdjust="spacingAndGlyphs">40.00</text>
<text x="1221.2" y="657.8" font-size="11" fill="#33353b" textLength="21.5" lengthAdjust="spacingAndGlyphs">0.00</text>
<rect x="1216" y="28.5" width="51" height="25.5" rx="4" fill="#fff" stroke="#eeeff2" stroke-width="1"/>
<text x="1224" y="45.4" font-size="11" fill="#33353b" textLength="7.2" lengthAdjust="spacingAndGlyphs">%</text>
<rect x="1212.6" y="292.4" width="47.1" height="29.1" rx="1.5" fill="#f23645"/>
<text x="1220.7" y="304.6" font-size="11" font-weight="bold" fill="#fff" textLength="34.7" lengthAdjust="spacingAndGlyphs">5.976%</text>
<text x="1220.7" y="317.7" font-size="11" fill="#fbd0d4" textLength="26" lengthAdjust="spacingAndGlyphs">3d 3h</text>
<rect x="1212.6" y="548.9" width="41" height="16.1" rx="1.5" fill="#ff6d00"/>
<rect x="1212.6" y="565" width="41" height="16" rx="1.5" fill="#2962ff"/>
<text x="1220.7" y="560.9" font-size="11" font-weight="bold" fill="#fff" textLength="27" lengthAdjust="spacingAndGlyphs">93.72</text>
<text x="1220.7" y="577" font-size="11" font-weight="bold" fill="#fff" textLength="27" lengthAdjust="spacingAndGlyphs">86.64</text>
<text x="93" y="713" font-size="11" fill="#33353b" text-anchor="middle" textLength="14" lengthAdjust="spacingAndGlyphs">Jul</text>
<text x="227.5" y="713" font-size="11.5" font-weight="bold" fill="#1f2126" text-anchor="middle" textLength="26" lengthAdjust="spacingAndGlyphs">2023</text>
<text x="361" y="713" font-size="11" fill="#33353b" text-anchor="middle" textLength="14" lengthAdjust="spacingAndGlyphs">Jul</text>
<text x="496" y="713" font-size="11.5" font-weight="bold" fill="#1f2126" text-anchor="middle" textLength="26" lengthAdjust="spacingAndGlyphs">2024</text>
<text x="630" y="713" font-size="11" fill="#33353b" text-anchor="middle" textLength="14" lengthAdjust="spacingAndGlyphs">Jul</text>
<text x="769.5" y="713" font-size="11.5" font-weight="bold" fill="#1f2126" text-anchor="middle" textLength="26" lengthAdjust="spacingAndGlyphs">2025</text>
<text x="903.5" y="713" font-size="11" fill="#33353b" text-anchor="middle" textLength="14" lengthAdjust="spacingAndGlyphs">Jul</text>
<text x="1038" y="713" font-size="11.5" font-weight="bold" fill="#1f2126" text-anchor="middle" textLength="26" lengthAdjust="spacingAndGlyphs">2026</text>
<text x="1173" y="713" font-size="11" fill="#33353b" text-anchor="middle" textLength="14" lengthAdjust="spacingAndGlyphs">Jul</text>
<text x="9.8" y="18.2" font-size="11.5" fill="#1f2126" textLength="322" lengthAdjust="spacingAndGlyphs">Crypflo created with TradingView.com, Dec 04, 2025 21:37 UTC</text>
<text x="17.3" y="44.6" font-size="11" fill="#33353b" textLength="257" lengthAdjust="spacingAndGlyphs">Market Cap USDT Dominance, % · 1W · CRYPTOCAP</text>
<text x="282.5" y="44.6" font-size="11" fill="#33353b" textLength="8" lengthAdjust="spacingAndGlyphs">O</text>
<text x="291" y="44.6" font-size="11" fill="#ea4658" textLength="33" lengthAdjust="spacingAndGlyphs">6.078%</text>
<text x="332" y="44.6" font-size="11" fill="#33353b" textLength="6.5" lengthAdjust="spacingAndGlyphs">H</text>
<text x="338.5" y="44.6" font-size="11" fill="#ea4658" textLength="34.5" lengthAdjust="spacingAndGlyphs">6.532%</text>
<text x="381" y="44.6" font-size="11" fill="#33353b" textLength="5" lengthAdjust="spacingAndGlyphs">L</text>
<text x="386" y="44.6" font-size="11" fill="#ea4658" textLength="34" lengthAdjust="spacingAndGlyphs">5.826%</text>
<text x="428" y="44.6" font-size="11" fill="#33353b" textLength="6.5" lengthAdjust="spacingAndGlyphs">C</text>
<text x="434.5" y="44.6" font-size="11" fill="#ea4658" textLength="34.5" lengthAdjust="spacingAndGlyphs">5.976%</text>
<text x="476" y="44.6" font-size="11" fill="#ea4658" textLength="80.5" lengthAdjust="spacingAndGlyphs">−0.103 (−1.70%)</text>
<text x="17.2" y="567" font-size="11" fill="#33353b" textLength="149.6" lengthAdjust="spacingAndGlyphs">Stoch RSI (3, 3, 14, 14, close)</text>
<text x="174.5" y="567" font-size="11" fill="#3b6cf6" textLength="27.5" lengthAdjust="spacingAndGlyphs">86.64</text>
<text x="209.5" y="567" font-size="11" fill="#ff7d1a" textLength="27.5" lengthAdjust="spacingAndGlyphs">93.72</text>
<text x="17" y="683" font-size="11" fill="#33353b" textLength="72" lengthAdjust="spacingAndGlyphs">RSI (14, close)</text>
<text x="96.5" y="683" font-size="11" fill="#8e6bcf" textLength="27.5" lengthAdjust="spacingAndGlyphs">64.79</text>
<text x="131" y="683" font-size="11" fill="#f7dc5f" textLength="28" lengthAdjust="spacingAndGlyphs">55.60</text>
<defs><linearGradient id="av" x1="0" y1="0" x2="1" y2="1"><stop offset="0" stop-color="#f48fb1"/><stop offset="0.35" stop-color="#ff7eb6"/><stop offset="0.55" stop-color="#8be36a"/><stop offset="0.8" stop-color="#3fd0c0"/><stop offset="1" stop-color="#35c6d8"/></linearGradient><clipPath id="avc"><circle cx="265" cy="470.6" r="12.5"/></clipPath></defs>
<g clip-path="url(#avc)" opacity="0.95"><circle cx="265" cy="470.6" r="12.5" fill="url(#av)"/><path d="M252 476 L262 464 L268 472 L260 484 L252 484 Z" fill="#48d2c6" opacity="0.85"/><path d="M256.5 484 L273 461.5 L276.5 464 L261 485 Z" fill="#2fbe4c"/><path d="M268 484 L279 466 L279 484 Z" fill="#b6e86a" opacity="0.8"/><path d="M274 458 L279 458 L279 472 Z" fill="#f7a1b5" opacity="0.9"/><circle cx="264.2" cy="466.2" r="2" fill="#3a68c8"/><circle cx="265.5" cy="463.5" r="1.1" fill="#ef8a3a"/><circle cx="258.2" cy="478.6" r="1.7" fill="#e03a3a"/></g>
<text x="281" y="466.6" font-size="6.6" font-weight="bold" fill="#222" textLength="30.5" lengthAdjust="spacingAndGlyphs">CrypFlow</text>
<rect x="314.2" y="461.3" width="6.6" height="6.2" fill="#cfe3f5" stroke="#8a8f98" stroke-width="0.6"/><rect x="322.6" y="461.3" width="6.6" height="6.2" fill="#f3d6d6" stroke="#8a8f98" stroke-width="0.6"/><polyline points="315,463.5 317,465.5 318.5,464 320.3,466.3" fill="none" stroke="#4a86d8" stroke-width="0.7"/><polyline points="323.3,466.3 325.2,464.6 326.6,465.6 328.6,462.6" fill="none" stroke="#d84a4a" stroke-width="0.7"/>
<text x="281" y="477.5" font-size="5.8" fill="#a6a8ae" textLength="41.5" lengthAdjust="spacingAndGlyphs">@_Crypflow_</text>

<g fill="#141414"><path d="M10.9 743.4 H24.2 V757.5 H17.2 V748.6 H10.9 Z"/><circle cx="27.9" cy="746.1" r="2.55"/><path d="M32.6 743.4 H39.3 L33.7 757.5 H27 Z"/></g>
<text x="45.9" y="757.2" font-size="19" font-weight="bold" fill="#141414" textLength="114.4" lengthAdjust="spacingAndGlyphs">TradingView</text>
</svg></body></html>
